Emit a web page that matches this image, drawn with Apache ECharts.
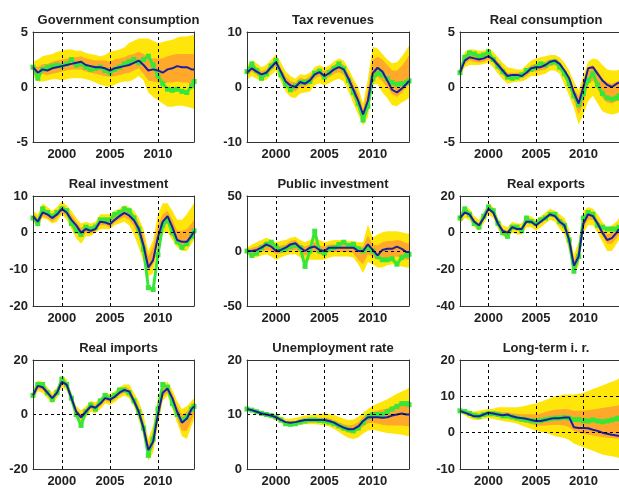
<!DOCTYPE html>
<html><head><meta charset="utf-8">
<script src="https://cdn.jsdelivr.net/npm/echarts@6/dist/echarts.min.js"></script>
<style>html,body{margin:0;padding:0;background:#fff}#c{width:619px;height:488px}</style>
</head><body><div id="c"></div>
<script>
// x positions (half-yearly, last point end of sample)
const years = [1997,1997.5,1998,1998.5,1999,1999.5,2000,2000.5,2001,2001.5,2002,2002.5,2003,2003.5,2004,2004.5,2005,2005.5,2006,2006.5,2007,2007.5,2008,2008.5,2009,2009.5,2010,2010.5,2011,2011.5,2012,2012.5,2013,2013.5,2013.75];
const xTickYears = [2000, 2005, 2010];

// Government consumption
const govTicks = [-5, 0, 5];
const govBlue  = [1.8,1.3,1.6,1.5,1.7,1.8,1.9,2.0,2.1,2.2,2.3,2.0,1.9,1.8,1.8,1.7,1.5,1.7,1.8,1.9,2.0,2.2,2.4,2.0,1.5,1.6,1.5,1.3,1.6,1.7,1.9,1.8,1.8,1.6,1.6];
const govGreen = [1.8,0.8,1.6,1.8,1.9,2.0,1.9,2.1,2.5,2.0,2.1,1.8,1.6,1.7,1.8,1.5,1.3,1.6,1.8,2.1,2.3,2.5,2.2,2.5,2.8,2.0,1.0,0.3,-0.2,-0.3,-0.2,-0.4,-0.5,0.1,0.5];
const govLo    = [1.0,0.5,0.5,0.6,0.7,0.7,0.6,0.7,0.8,0.8,0.8,0.7,0.6,0.4,0.2,0.1,0.0,0.2,0.4,0.5,0.5,0.7,1.0,0.6,-0.5,-0.9,-1.2,-1.5,-1.8,-1.8,-1.7,-1.7,-1.8,-1.9,-2.0];
const govHi    = [2.3,2.5,2.8,2.9,3.0,3.2,3.3,3.4,3.4,3.3,3.3,3.1,3.0,2.9,2.8,2.9,3.2,3.3,3.4,3.6,4.0,4.2,4.4,4.4,4.4,4.2,4.0,4.1,4.2,4.3,4.5,4.6,4.6,4.7,4.7];
const govInLo  = [1.5,1.0,1.2,1.1,1.2,1.3,1.4,1.5,1.6,1.6,1.6,1.4,1.3,1.2,1.1,1.0,0.9,1.0,1.1,1.2,1.3,1.5,1.7,1.2,0.6,0.5,0.4,0.3,0.4,0.4,0.5,0.4,0.4,0.3,0.3];
const govInHi  = [2.0,1.8,2.1,2.1,2.3,2.4,2.5,2.6,2.7,2.7,2.8,2.6,2.5,2.4,2.4,2.4,2.3,2.5,2.6,2.7,2.9,3.0,3.2,3.0,2.7,2.6,2.6,2.6,2.8,2.9,3.0,3.0,3.0,3.0,3.0];

// Tax revenues
const taxTicks = [-10, 0, 10];
const taxBlue  = [2.6,3.4,2.8,2.3,2.6,3.6,4.5,2.8,1.0,0.3,0.0,0.9,0.6,1.2,2.3,2.7,2.0,2.5,3.2,3.6,3.2,1.5,-0.5,-2.5,-5.0,-2.5,2.5,3.5,2.8,1.2,-0.5,-1.0,-0.3,0.6,1.1];
const taxGreen = [2.8,4.2,3.0,1.6,2.4,3.8,4.8,2.2,0.5,-0.5,0.2,0.8,0.9,1.0,2.5,2.9,1.8,2.6,3.4,4.2,3.3,1.2,-1.0,-3.0,-6.0,-3.5,1.5,2.5,2.2,1.5,0.8,0.5,0.6,0.8,1.1];
const taxLo    = [1.3,2.0,1.5,1.0,1.3,2.2,3.0,1.0,-0.8,-1.8,-2.0,-1.2,-1.0,-0.8,0.3,0.7,0.3,0.7,1.2,1.5,1.0,-0.8,-3.0,-5.0,-7.0,-5.5,0.5,0.5,-1.0,-2.0,-3.3,-3.5,-2.8,-2.3,-2.0];
const taxHi    = [3.8,4.8,4.3,3.6,4.0,5.0,5.9,4.5,2.8,2.0,1.5,2.3,2.2,2.6,3.6,4.0,3.5,3.9,4.7,5.2,4.8,3.3,1.5,0.0,-3.0,1.5,7.3,7.0,6.0,5.0,4.3,4.5,5.5,6.8,7.5];
const taxInLo  = [2.0,2.8,2.2,1.7,2.0,3.0,3.8,2.0,0.3,-0.5,-0.8,0.0,0.0,0.5,1.5,2.0,1.3,1.8,2.4,2.7,2.2,0.5,-1.8,-3.8,-6.0,-4.0,1.5,1.8,1.0,0.0,-1.3,-1.8,-1.0,0.0,0.5];
const taxInHi  = [3.2,4.0,3.5,2.9,3.2,4.3,5.2,3.6,1.8,1.1,0.8,1.7,1.4,2.0,3.0,3.4,2.8,3.3,4.0,4.5,4.0,2.4,0.6,-1.2,-4.0,-0.5,5.0,5.5,5.0,4.0,3.0,3.0,3.8,5.0,5.8];

// Real consumption
const conTicks = [-5, 0, 5];
const conBlue  = [1.3,2.4,2.7,2.6,2.5,2.6,2.8,2.5,2.0,1.5,1.0,1.1,1.1,1.0,1.3,1.7,1.8,1.8,2.0,2.3,2.4,2.1,1.5,0.8,-0.5,-1.5,0.0,1.7,1.8,1.2,0.6,0.2,0.0,0.3,0.4];
const conGreen = [1.3,2.7,3.1,3.0,2.8,2.9,3.2,2.5,1.9,1.4,0.9,0.8,0.9,1.1,1.5,1.6,1.8,2.1,2.0,2.2,2.3,1.8,1.2,0.3,-0.8,-1.6,-0.6,0.6,1.2,0.2,-0.6,-1.0,-1.1,-1.0,-0.8];
const conLo    = [1.0,1.8,2.0,2.0,2.0,2.1,2.2,1.8,1.2,0.7,0.3,0.4,0.5,0.5,0.7,1.0,1.0,1.1,1.2,1.5,1.5,1.2,0.2,-0.8,-1.9,-3.4,-2.5,-1.3,-0.8,-1.5,-2.2,-2.4,-2.5,-2.4,-2.3];
const conHi    = [1.8,3.2,3.4,3.4,3.3,3.3,3.5,3.2,2.7,2.2,1.8,1.7,1.6,1.6,2.0,2.4,2.6,2.7,2.8,2.9,2.9,2.7,2.2,1.5,0.5,-0.3,1.0,2.3,2.6,2.5,2.0,1.6,1.5,1.5,1.6];
const conInLo  = [1.1,2.1,2.4,2.3,2.2,2.3,2.5,2.2,1.6,1.1,0.7,0.8,0.8,0.8,1.0,1.4,1.4,1.5,1.6,1.9,2.0,1.7,0.9,0.0,-1.2,-2.5,-1.5,0.3,0.6,-0.2,-1.0,-1.4,-1.5,-1.3,-1.2];
const conInHi  = [1.5,2.8,3.0,2.9,2.8,2.9,3.1,2.8,2.3,1.8,1.3,1.3,1.3,1.3,1.6,2.0,2.1,2.2,2.3,2.5,2.6,2.3,1.6,0.9,-0.2,-0.8,0.6,1.8,2.0,1.5,0.8,0.4,0.3,0.5,0.6];

// Real investment
const invTicks = [-20, -10, 0, 10];
const invBlue  = [4.5,3.0,5.5,5.0,4.0,5.0,6.5,5.5,3.5,2.0,0.0,1.0,0.5,1.0,3.0,2.8,2.3,3.5,4.5,5.4,4.7,3.4,1.1,-3.5,-9.5,-7.5,-1.2,3.0,4.5,1.5,-2.0,-2.5,-2.5,-0.8,0.3];
const invGreen = [4.0,2.5,6.5,5.5,4.5,5.5,6.5,6.0,2.5,0.5,-0.5,1.5,1.0,1.5,3.5,3.5,3.5,5.0,5.5,6.5,6.0,4.0,1.0,-4.5,-15.0,-15.5,-6.0,2.0,3.5,0.0,-2.5,-4.0,-3.0,-1.0,0.5];
const invLo    = [3.0,1.5,4.0,3.5,2.5,3.0,5.0,3.5,1.0,-1.5,-3.0,-1.0,-1.0,0.0,1.0,1.0,1.0,2.0,2.5,3.0,2.0,-0.5,-4.0,-8.0,-12.0,-11.0,-4.0,0.0,0.0,-2.0,-4.0,-5.0,-5.0,-3.0,-2.0];
const invHi    = [6.0,5.0,8.0,7.0,6.0,7.0,8.5,7.5,6.0,4.0,2.5,3.0,2.5,3.0,5.0,5.0,5.0,6.0,6.5,7.5,7.0,6.0,4.0,1.0,-5.0,-2.0,5.0,8.0,8.0,6.0,3.5,3.5,5.0,7.0,8.0];
const invInLo  = [3.5,2.0,4.5,4.0,3.0,4.0,5.5,4.5,2.3,0.5,-1.3,0.0,-0.3,0.3,2.0,2.0,1.5,2.7,3.5,4.3,3.5,1.8,-1.0,-5.5,-10.5,-8.5,-2.5,1.8,2.5,-0.5,-3.0,-3.5,-3.5,-1.8,-0.8];
const invInHi  = [5.3,4.0,6.5,6.0,5.0,6.0,7.5,6.5,4.8,3.0,1.3,2.0,1.5,2.0,4.0,3.8,3.5,4.5,5.5,6.5,6.0,4.8,2.8,-1.0,-6.5,-4.0,2.0,5.0,6.0,3.5,0.5,0.5,1.0,2.5,3.5];

// Public investment
const pubTicks = [-50, 0, 50];
const pubBlue  = [0,0,1,3,6,4,0,1,3,6,7,3,0,3,4,1,0,3,3,3,3,3,3,0,0,6,1,-4,1,2,2,4,2,-1,-1];
const pubGreen = [0,-4,-2,3,6,8,4,1,2,4,5,3,-14,0,18,0,-2,2,3,6,8,5,6,2,0,3,0,-5,-8,-8,-7,-12,-6,-4,-3];
const pubLo    = [-3,-6,-6,-4,-3,-5,-8,-6,-4,-3,-3,-6,-10,-8,-8,-8,-8,-6,-5,-5,-5,-5,-6,-12,-20,-10,-12,-15,-15,-13,-12,-13,-14,-15,-15];
const pubHi    = [3,6,8,10,12,10,8,9,10,12,13,10,8,10,12,10,8,9,10,10,10,9,9,8,8,24,12,15,17,18,18,18,17,16,16];
const pubInLo  = [-1,-3,-3,-1,1,0,-3,-2,-1,0,1,-1,-4,-2,0,-3,-4,-1,-1,-1,-1,-1,-2,-8,-12,-3,-5,-8,-8,-6,-5,-5,-6,-8,-8];
const pubInHi  = [1,3,4,6,9,7,4,5,6,9,10,6,4,6,8,5,4,6,6,6,6,6,6,3,4,14,6,5,8,9,9,10,9,7,7];

// Real exports
const expTicks = [-40, -20, 0, 20];
const expBlue  = [8,11,10,6,4,8,13,11,5,1,0,3,2,2,6,6,4,6,8,10,9,6,4,-4,-18,-13,5,10,9,5,0,-4,-3,0,2];
const expGreen = [8,13,10,5,3,9,14,12,5,0,-2,3,3,1,8,6,5,7,8,10,10,6,4,-4,-21,-13,8,11,10,4,3,2,2,2,3];
const expLo    = [5,8,7,3,1,5,10,8,2,-2,-3,0,-1,-1,3,3,1,3,5,7,6,2,-1,-10,-23,-18,0,4,4,0,-5,-10,-10,-6,-4];
const expHi    = [10,14,13,9,7,11,16,14,8,4,3,6,5,5,9,9,7,9,11,13,12,10,8,2,-12,-5,12,14,13,10,6,3,4,6,8];
const expInLo  = [7,10,9,5,3,7,12,10,4,0,-1,2,1,1,5,5,3,5,7,9,8,4,2,-6,-20,-16,3,7,7,3,-2,-6,-6,-3,-1];
const expInHi  = [9,12,11,7,5,9,14,12,6,2,1,4,3,3,7,7,5,7,9,11,10,8,6,-1,-15,-9,8,11,10,7,2,-1,0,2,4];

// Real imports
const impTicks = [-20, 0, 20];
const impBlue  = [7,10.5,10,8,6,8,12,11,6,1,-1,1,3,2.5,4,6,5.5,6.5,8,9,8.5,5,1,-5,-13,-10,0,8,9.5,6,1,-3,-1.5,2,3];
const impGreen = [7,11,11,8,5.5,8,13,11,6,0,-4,1,3.5,2,5,7,6,7,9,9,8,5,1,-5,-15,-9,2,11,10,4,0,-2,-1,2,3];
const impLo    = [5,8.5,8,6,4,6,10,9,4,-1,-3,-1,1,0.5,2,4,3.5,4.5,6,7,6,3,-2,-8,-17,-14,-4,5,7,2,-3,-8,-9,-4,-2];
const impHi    = [9,12.5,12,10,8,10,14,13,8,3,1.5,3,5,4.5,6,8,7.5,8.5,10,11,11,8,5,0,-9,-4,6,11,12,9,5,2,3,5,6];
const impInLo  = [6,9.5,9,7,5,7,11,10,5,0,-2,0,2,1.5,3,5,4.5,5.5,7,8,7,4,-0.5,-6.5,-15,-12,-2,6.5,8,3.5,-1.5,-6,-6,-2,0];
const impInHi  = [8,11.5,11,9,7,9,13,12,7,2,0,2,4,3.5,5,7,6.5,7.5,9,10,9.5,6.5,3,-3,-11,-7,3,9.5,11,7.5,3,0,1,3.5,4.5];

// Unemployment rate
const unTicks = [0, 10, 20];
const unBlue  = [11,10.8,10.5,10.2,10,9.8,9.5,9,8.6,8.5,8.6,8.8,9,9,9,9,9,8.8,8.5,8,7.6,7.3,7.3,7.8,8.8,9.5,9.5,9.5,9.4,9.5,9.8,10,10.2,10,10];
const unGreen = [11,10.8,10.5,10.2,10,9.8,9.5,9,8.3,8.2,8.3,8.6,8.8,9,9,8.9,8.8,8.6,8.3,7.9,7.5,7.2,7.0,7.5,8.5,9.5,10,10,10,10.5,11,11.5,12,12,11.8];
const unLo    = [10.8,10.5,10.2,9.9,9.6,9.3,9.0,8.5,8.1,8.0,8.0,8.1,8.2,8.2,8.2,8.1,8.0,7.8,7.4,6.8,6.2,5.7,5.5,5.8,6.5,7.0,7.2,7.0,6.8,6.6,6.5,6.4,6.3,6.1,6.0];
const unHi    = [11.2,11.1,10.9,10.6,10.4,10.2,10.0,9.6,9.2,9.2,9.4,9.6,9.8,9.9,10.0,10.1,10.2,10.1,9.9,9.6,9.2,9.0,9.1,9.6,10.3,11.0,11.6,12.0,12.4,12.8,13.3,13.8,14.2,14.6,15.0];
const unInLo  = [10.9,10.7,10.4,10.1,9.9,9.6,9.3,8.8,8.4,8.3,8.4,8.5,8.7,8.7,8.7,8.6,8.5,8.3,8.0,7.5,7.0,6.7,6.6,7.0,7.8,8.4,8.5,8.3,8.1,8.0,8.0,8.0,8.0,7.9,7.8];
const unInHi  = [11.1,10.9,10.6,10.3,10.1,10.0,9.7,9.2,8.8,8.7,8.8,9.1,9.3,9.3,9.3,9.4,9.4,9.3,9.0,8.6,8.2,8.0,8.1,8.6,9.5,10.2,10.5,10.7,10.9,11.1,11.5,11.8,12.1,12.3,12.5];

// Long-term interest rate
const ltTicks = [-10, 0, 10, 20];
const ltBlue  = [6,5.5,5,4.5,4.5,5,5.5,5.3,5,4.8,5,4.5,4.2,4,3.8,3.5,3.2,3.2,3.5,3.8,4,4,4.2,4.2,1.5,1.3,1.3,1.2,0.8,0.5,0,-0.3,-0.6,-0.8,-0.9];
const ltGreen = [6,5.8,5.3,4.8,4.5,5,5.2,5.2,5,4.6,4.6,4.3,4,3.7,3.5,3.3,3.2,3.3,3.6,3.8,4,4,4.2,4,3.6,3.6,3.3,3.2,3.5,3.2,3,3.2,3.5,3.8,4];
const ltLo    = [5.5,4.8,4,3.5,3.5,3.8,4,3.8,3.5,3.2,3,2.8,2.5,2,1.5,1,0.5,0.2,0,-0.5,-1,-1.2,-1.5,-2,-3,-3.5,-4,-4.5,-5,-5.5,-6,-6.3,-6.5,-6.8,-7];
const ltHi    = [6.5,6.3,6,5.8,6,6.3,6.5,6.6,7,7,7,7,7,7.2,7.5,7.8,8,8.5,9,9.5,10,10.2,10.5,10.5,10.5,10.7,11,11.5,12,12.5,13,13.5,14,14.5,15];
const ltInLo  = [5.8,5.3,4.7,4.2,4.2,4.6,5,4.8,4.5,4.2,4.2,3.8,3.4,3.1,2.8,2.4,2,1.9,2,2.1,2.2,2.1,2,1.5,0.5,0,-0.3,-0.5,-0.8,-1,-1.2,-1.4,-1.5,-1.6,-1.7];
const ltInHi  = [6.2,6,5.6,5.2,5.2,5.5,5.9,5.9,5.8,5.6,5.6,5.4,5.2,5.1,5.1,5.1,5,5.3,5.7,6,6.3,6.4,6.5,6.4,6,6,6.1,6.2,6.4,6.6,6.8,7,7.2,7.4,7.6];

const panels = [
  {title:'Government consumption', ticks:govTicks, blue:govBlue, green:govGreen, lo:govLo, hi:govHi, inLo:govInLo, inHi:govInHi},
  {title:'Tax revenues', ticks:taxTicks, blue:taxBlue, green:taxGreen, lo:taxLo, hi:taxHi, inLo:taxInLo, inHi:taxInHi},
  {title:'Real consumption', ticks:conTicks, blue:conBlue, green:conGreen, lo:conLo, hi:conHi, inLo:conInLo, inHi:conInHi},
  {title:'Real investment', ticks:invTicks, blue:invBlue, green:invGreen, lo:invLo, hi:invHi, inLo:invInLo, inHi:invInHi},
  {title:'Public investment', ticks:pubTicks, blue:pubBlue, green:pubGreen, lo:pubLo, hi:pubHi, inLo:pubInLo, inHi:pubInHi},
  {title:'Real exports', ticks:expTicks, blue:expBlue, green:expGreen, lo:expLo, hi:expHi, inLo:expInLo, inHi:expInHi},
  {title:'Real imports', ticks:impTicks, blue:impBlue, green:impGreen, lo:impLo, hi:impHi, inLo:impInLo, inHi:impInHi},
  {title:'Unemployment rate', ticks:unTicks, blue:unBlue, green:unGreen, lo:unLo, hi:unHi, inLo:unInLo, inHi:unInHi},
  {title:'Long-term i. r.', ticks:ltTicks, blue:ltBlue, green:ltGreen, lo:ltLo, hi:ltHi, inLo:ltInLo, inHi:ltInHi}
];

// layout & style
const colLeft = [33, 247, 460], colWidth = [161, 162, 162];
const rowTop = [32, 196, 360], rowHeight = [110, 110, 109];
const FONT = 'Liberation Sans, Arial, sans-serif';
const YELLOW = '#FFE60A', ORANGE = '#FFA82A', GREEN = '#38E638', BLUE = '#1A1F9E';
const TXT = '#222';

// a filled band between two read series, drawn through the axis scales
function bandSeries(xi, yi, lower, upper, color, z) {
  return {
    type: 'custom', xAxisIndex: xi, yAxisIndex: yi, z: z, silent: true, animation: false, clip: true,
    data: [[years[0], lower[0]]],
    renderItem: function (params, api) {
      const pts = [];
      for (let k = 0; k < years.length; k++) pts.push(api.coord([years[k], upper[k]]));
      for (let k = years.length - 1; k >= 0; k--) pts.push(api.coord([years[k], lower[k]]));
      const cs = params.coordSys;
      return {
        type: 'polygon', shape: {points: pts}, style: {fill: color, stroke: null},
        clipPath: {type: 'rect', shape: {x: cs.x, y: cs.y, width: cs.width, height: cs.height}}
      };
    }
  };
}

const grids = [], xAxes = [], yAxes = [], titles = [], series = [];
panels.forEach((p, i) => {
  const r = Math.floor(i / 3), c = i % 3;
  const left = colLeft[c], top = rowTop[r], w = colWidth[c], h = rowHeight[r];
  grids.push({left: left, top: top, width: w, height: h, show: false});
  titles.push({text: p.title, left: left + w / 2, top: top - 23, textAlign: 'center',
    textStyle: {fontFamily: FONT, fontSize: 13, fontWeight: 'bold', color: TXT}});
  const lineAx = {show: true, onZero: false, lineStyle: {color: '#333', width: 1}};
  const xMin = years[0], xMax = years[years.length - 1];
  xAxes.push({gridIndex: i, type: 'value', position: 'bottom', min: xMin, max: xMax, z: 5,
    axisLine: lineAx, axisTick: {show: false}, splitLine: {show: false},
    axisLabel: {customValues: xTickYears, formatter: v => String(v), fontFamily: FONT, fontSize: 13, fontWeight: 'bold', color: TXT, margin: 6}});
  xAxes.push({gridIndex: i, type: 'value', position: 'top', min: xMin, max: xMax, z: 5,
    axisLine: lineAx, axisTick: {show: false}, splitLine: {show: false}, axisLabel: {show: false}});
  const t = p.ticks;
  yAxes.push({gridIndex: i, type: 'value', position: 'left', min: t[0], max: t[t.length - 1], interval: t[1] - t[0], z: 5,
    axisLine: lineAx, axisTick: {show: false}, splitLine: {show: false},
    axisLabel: {formatter: v => String(v), fontFamily: FONT, fontSize: 13, fontWeight: 'bold', color: TXT, margin: 5}});
  yAxes.push({gridIndex: i, type: 'value', position: 'right', min: t[0], max: t[t.length - 1], interval: t[1] - t[0], z: 5,
    axisLine: lineAx, axisTick: {show: false}, splitLine: {show: false}, axisLabel: {show: false}});

  const xi = 2 * i, yi = 2 * i;
  series.push(bandSeries(xi, yi, p.lo, p.hi, YELLOW, 1));
  series.push(bandSeries(xi, yi, p.inLo, p.inHi, ORANGE, 1));
  const interior = t.slice(1, -1);
  series.push({type: 'line', xAxisIndex: xi, yAxisIndex: yi, z: 2, animation: false, silent: true,
    data: [], symbol: 'none',
    markLine: {silent: true, animation: false, symbol: ['none', 'none'], label: {show: false},
      lineStyle: {type: [3, 3], color: '#000', width: 1}, emphasis: {disabled: true},
      data: xTickYears.map(v => ({xAxis: v})).concat(interior.map(v => ({yAxis: v})))}});
  series.push({type: 'line', xAxisIndex: xi, yAxisIndex: yi, z: 3, animation: false, silent: true,
    data: years.map((x, k) => [x, p.green[k]]), symbol: 'rect', symbolSize: 5, showAllSymbol: true,
    itemStyle: {color: GREEN}, lineStyle: {color: GREEN, width: 3}});
  series.push({type: 'line', xAxisIndex: xi, yAxisIndex: yi, z: 4, animation: false, silent: true,
    data: years.map((x, k) => [x, p.blue[k]]), symbol: 'none', lineStyle: {color: BLUE, width: 2}});
});

const chart = echarts.init(document.getElementById('c'), null, {renderer: 'canvas'});
chart.setOption({animation: false, backgroundColor: '#fff', title: titles, grid: grids, xAxis: xAxes, yAxis: yAxes, series: series});
</script></body></html>
